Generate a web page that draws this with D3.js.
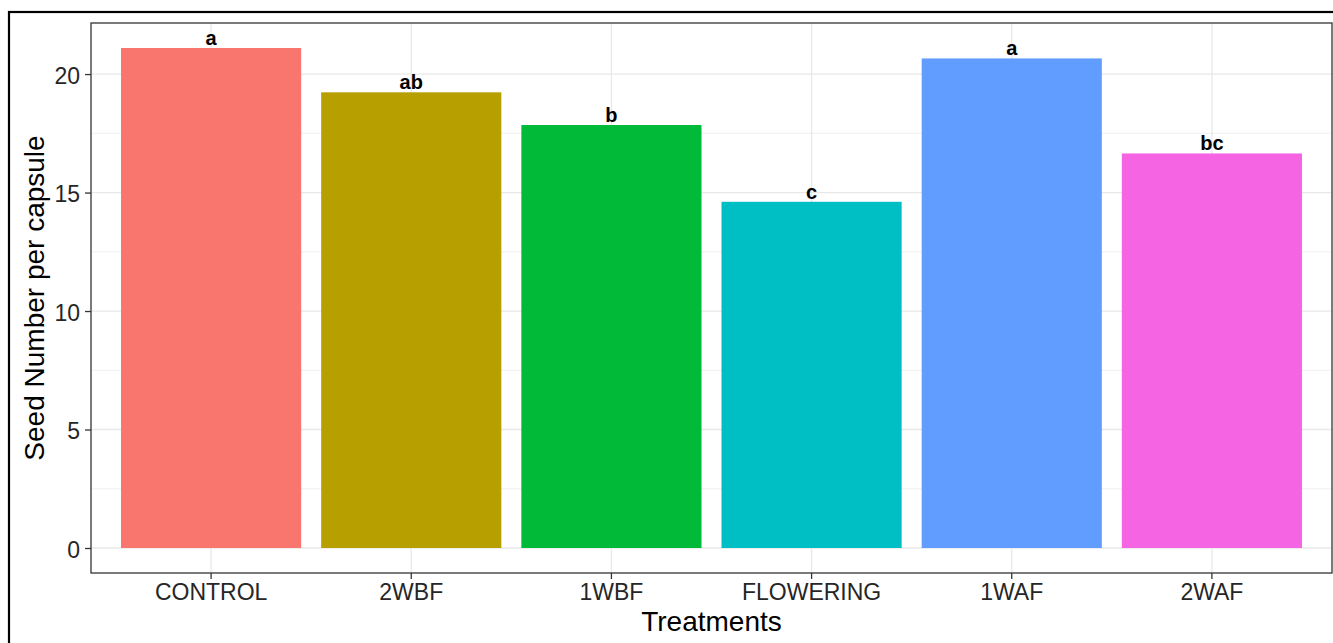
<!DOCTYPE html>
<html>
<head>
<meta charset="utf-8">
<script src="https://cdn.jsdelivr.net/npm/d3@7"></script>
<style>
  html, body { margin: 0; padding: 0; background: #fff; }
  svg { display: block; font-family: "Liberation Sans", Arial, sans-serif; }
</style>
</head>
<body>
<svg id="chart" width="1333" height="643"></svg>
<script>
// Seed number per capsule by treatment, with significance letters
const treatments = ["CONTROL", "2WBF", "1WBF", "FLOWERING", "1WAF", "2WAF"];
const seedNumber = [21.1, 19.23, 17.85, 14.61, 20.66, 16.65];
const letters = ["a", "ab", "b", "c", "a", "bc"];
const barColors = ["#F8766D", "#B79F00", "#00BA38", "#00BFC4", "#619CFF", "#F564E3"];
const yMajorTicks = [0, 5, 10, 15, 20];
const yMinorTicks = [2.5, 7.5, 12.5, 17.5];

const svg = d3.select("#chart");

// Outer frame
svg.append("rect")
  .attr("x", 9).attr("y", 12)
  .attr("width", 1340).attr("height", 650)
  .attr("fill", "none").attr("stroke", "#000").attr("stroke-width", 2.2);

const panel = { left: 91, right: 1332, top: 23, bottom: 573 };

// Discrete x with 0.6 padding on each side, bars at 90% of the step
const step = (panel.right - panel.left) / (treatments.length + 0.2);
const x = d3.scaleBand()
  .domain(treatments)
  .range([panel.left + 0.1 * step, panel.right - 0.1 * step])
  .paddingInner(0.1).paddingOuter(0.05);

const maxVal = d3.max(seedNumber);
const expand = 0.05 * maxVal;
const y = d3.scaleLinear()
  .domain([-expand, maxVal + expand])
  .range([panel.bottom, panel.top]);

const g = svg.append("g");

// Grid
g.selectAll("line.minor").data(yMinorTicks).join("line")
  .attr("x1", panel.left).attr("x2", panel.right)
  .attr("y1", d => y(d)).attr("y2", d => y(d))
  .attr("stroke", "#F0F0F0").attr("stroke-width", 1);
g.selectAll("line.major").data(yMajorTicks).join("line")
  .attr("x1", panel.left).attr("x2", panel.right)
  .attr("y1", d => y(d)).attr("y2", d => y(d))
  .attr("stroke", "#E8E8E8").attr("stroke-width", 1.3);
g.selectAll("line.vgrid").data(treatments).join("line")
  .attr("x1", d => x(d) + x.bandwidth() / 2).attr("x2", d => x(d) + x.bandwidth() / 2)
  .attr("y1", panel.top).attr("y2", panel.bottom)
  .attr("stroke", "#E8E8E8").attr("stroke-width", 1.3);

// Bars
g.selectAll("rect.bar").data(treatments).join("rect")
  .attr("x", d => x(d))
  .attr("width", x.bandwidth())
  .attr("y", (d, i) => y(seedNumber[i]))
  .attr("height", (d, i) => y(0) - y(seedNumber[i]))
  .attr("fill", (d, i) => barColors[i]);

// Significance letters
g.selectAll("text.letter").data(treatments).join("text")
  .attr("x", d => x(d) + x.bandwidth() / 2)
  .attr("y", (d, i) => y(seedNumber[i]) - 3)
  .attr("text-anchor", "middle")
  .attr("font-size", 20).attr("font-weight", "bold")
  .attr("fill", "#000")
  .text((d, i) => letters[i]);

// Panel border
svg.append("rect")
  .attr("x", panel.left).attr("y", panel.top)
  .attr("width", panel.right - panel.left).attr("height", panel.bottom - panel.top)
  .attr("fill", "none").attr("stroke", "#333").attr("stroke-width", 1.3);

// Y axis
const yAxis = svg.append("g")
  .attr("transform", `translate(${panel.left},0)`)
  .call(d3.axisLeft(y).tickValues(yMajorTicks).tickSize(6).tickPadding(5).tickFormat(d3.format("d")));
yAxis.select(".domain").remove();
yAxis.selectAll(".tick line").attr("stroke", "#333").attr("stroke-width", 1.3);
yAxis.selectAll(".tick text")
  .attr("font-size", 23).attr("fill", "#262626")
  .attr("font-family", "Liberation Sans, Arial, sans-serif")
  .attr("dy", "0.4em");

// X axis
const xAxis = svg.append("g")
  .attr("transform", `translate(0,${panel.bottom})`)
  .call(d3.axisBottom(x).tickSize(6).tickPadding(5));
xAxis.select(".domain").remove();
xAxis.selectAll(".tick line").attr("stroke", "#333").attr("stroke-width", 1.3);
xAxis.selectAll(".tick text")
  .attr("font-size", 23).attr("fill", "#262626")
  .attr("font-family", "Liberation Sans, Arial, sans-serif")
  .attr("y", 27).attr("dy", 0);

// Axis titles
svg.append("text")
  .attr("x", (panel.left + panel.right) / 2).attr("y", 631)
  .attr("text-anchor", "middle").attr("font-size", 28).attr("fill", "#000")
  .text("Treatments");
svg.append("text")
  .attr("transform", `translate(44,${(panel.top + panel.bottom) / 2}) rotate(-90)`)
  .attr("text-anchor", "middle").attr("font-size", 28).attr("fill", "#000")
  .text("Seed Number per capsule");
</script>
</body>
</html>
